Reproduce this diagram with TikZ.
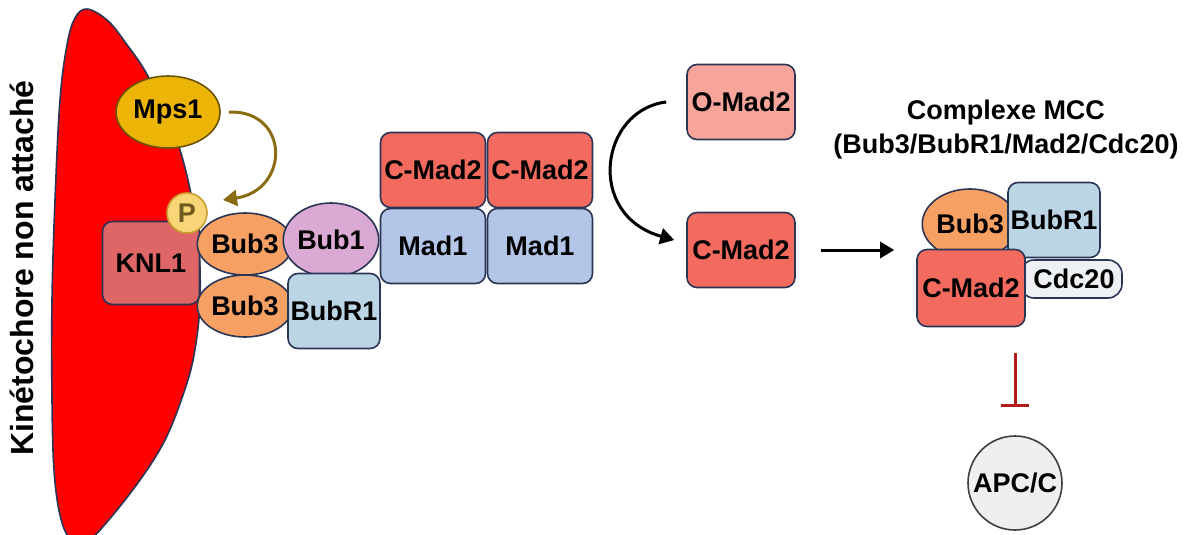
\documentclass[tikz,border=0pt]{standalone}
\usepackage{fontspec}
\setmainfont{Liberation Sans}
\usetikzlibrary{shapes.geometric,arrows.meta}
\definecolor{kinred}{HTML}{FF0000}
\definecolor{edgeblue}{HTML}{2B3556}
\definecolor{mpsgold}{HTML}{EDB508}
\definecolor{mpsedge}{HTML}{6B5400}
\definecolor{phosyel}{HTML}{F8D677}
\definecolor{phosedge}{HTML}{C9A02E}
\definecolor{phostext}{HTML}{6E5A1E}
\definecolor{knlred}{HTML}{DF6666}
\definecolor{bubor}{HTML}{F7A064}
\definecolor{bublil}{HTML}{DAAAD4}
\definecolor{bubrblue}{HTML}{BBD5E5}
\definecolor{cmadred}{HTML}{F36B5E}
\definecolor{omadpink}{HTML}{F7A49B}
\definecolor{madblue}{HTML}{B4C6E7}
\definecolor{cdcgray}{HTML}{EEF1F4}
\definecolor{apcgray}{HTML}{EFEFEF}
\definecolor{arrbrown}{HTML}{8A6D12}
\definecolor{inhred}{HTML}{B31B1B}

\begin{document}
\begin{tikzpicture}[x=1pt,y=-1pt,
    prot/.style={draw=edgeblue,line width=1.6pt,inner sep=0pt,
        font=\fontsize{27}{32}\selectfont\bfseries},
    boxprot/.style={prot,rectangle,rounded corners=10pt},
    ovalprot/.style={prot,ellipse}]

    \useasboundingbox (0,0) rectangle (1191,535);

    \draw[edgeblue,line width=1.6pt,fill=kinred] plot[smooth cycle,tension=0.6] coordinates {(87,9) (107,20) (125,42) (150,80)
        (180,150) (197,230) (200,300) (194,355) (183,395) (165,440) (140,480) (107,522) (88,540) (70,538) (60,515)
        (54,470) (52,400) (52,300) (55,200) (60,100) (67,45) (75,18)};

    \node[rotate=90,font=\fontsize{32}{36}\selectfont\bfseries] (kinlabel) at (22,268) {Kinétochore non attaché};

    \node[ovalprot,fill=mpsgold,draw=mpsedge,minimum width=104pt,minimum height=72pt] (mps) at (168,112) {Mps1};
    \node[boxprot,fill=knlred,minimum width=97pt,minimum height=83pt] (knl) at (151,263) {KNL1};
    \node[ovalprot,fill=bubor,minimum width=86pt,minimum height=62pt] (bubup) at (245,244) {Bub3};
    \node[ovalprot,fill=bubor,minimum width=86pt,minimum height=62pt] (bubdown) at (245,306) {Bub3};
    \node[ovalprot,fill=bublil,minimum width=88pt,minimum height=74pt] (bubone) at (331,240) {Bub1};
    \node[boxprot,fill=bubrblue,minimum width=92pt,minimum height=75pt] (bubr) at (334,311) {BubR1};
    \node[prot,circle,fill=phosyel,draw=phosedge,text=phostext,minimum size=40pt] (phos) at (187,213) {P};

    \node[boxprot,fill=cmadred,minimum width=105pt,minimum height=75pt] (cmadA) at (433,170) {C-Mad2};
    \node[boxprot,fill=cmadred,minimum width=105pt,minimum height=75pt] (cmadB) at (540,170) {C-Mad2};
    \node[boxprot,fill=madblue,minimum width=105pt,minimum height=75pt] (madA) at (433,246) {Mad1};
    \node[boxprot,fill=madblue,minimum width=105pt,minimum height=75pt] (madB) at (540,246) {Mad1};

    \node[boxprot,fill=omadpink,minimum width=108pt,minimum height=75pt] (omad) at (741,102) {O-Mad2};
    \node[boxprot,fill=cmadred,minimum width=108pt,minimum height=75pt] (cmadfree) at (741,250) {C-Mad2};

    \node[font=\fontsize{27}{34}\selectfont\bfseries,align=center] (mcctitle) at (1006,130) {Complexe MCC\\(Bub3/BubR1/Mad2/Cdc20)};
    \node[boxprot,rounded corners=14pt,fill=cdcgray,minimum width=102pt,minimum height=38pt] (cdc) at (1071,279) {\hspace*{6pt}Cdc20};
    \node[ovalprot,fill=bubor,minimum width=86pt,minimum height=70pt] (mccbub) at (970,224) {Bub3};
    \node[boxprot,fill=bubrblue,minimum width=92pt,minimum height=75pt] (mccbubr) at (1054,220) {BubR1};
    \node[boxprot,fill=cmadred,minimum width=108pt,minimum height=77pt] (mccmad) at (971,288) {C-Mad2};

    \node[prot,circle,fill=apcgray,draw=black!75,minimum size=94pt] (apc) at (1015,483) {APC/C};

    \draw[arrbrown,line width=3pt,-{Triangle[length=14pt,width=16pt]}]([xshift=8pt]mps.east) .. controls (290,110) and (290,190) .. ([shift={(36,-13)}]phos.center);
    \draw[black,line width=3pt,-{Triangle[length=14pt,width=16pt]}]([shift={(-20,0)}]omad.west) .. controls (600,110) and (585,215) .. ([shift={(-12,-10)}]cmadfree.west);
    \draw[black,line width=3pt,-{Triangle[length=14pt,width=16pt]},shorten <=25pt,shorten >=22pt](cmadfree.east) -- (cmadfree.east -| mccmad.west);
    \draw[inhred,line width=3pt,-{Bar[width=28pt]},shorten <=26pt,shorten >=28pt](apc.north |- mccmad.south) -- (apc.north);

\end{tikzpicture}
\end{document}
